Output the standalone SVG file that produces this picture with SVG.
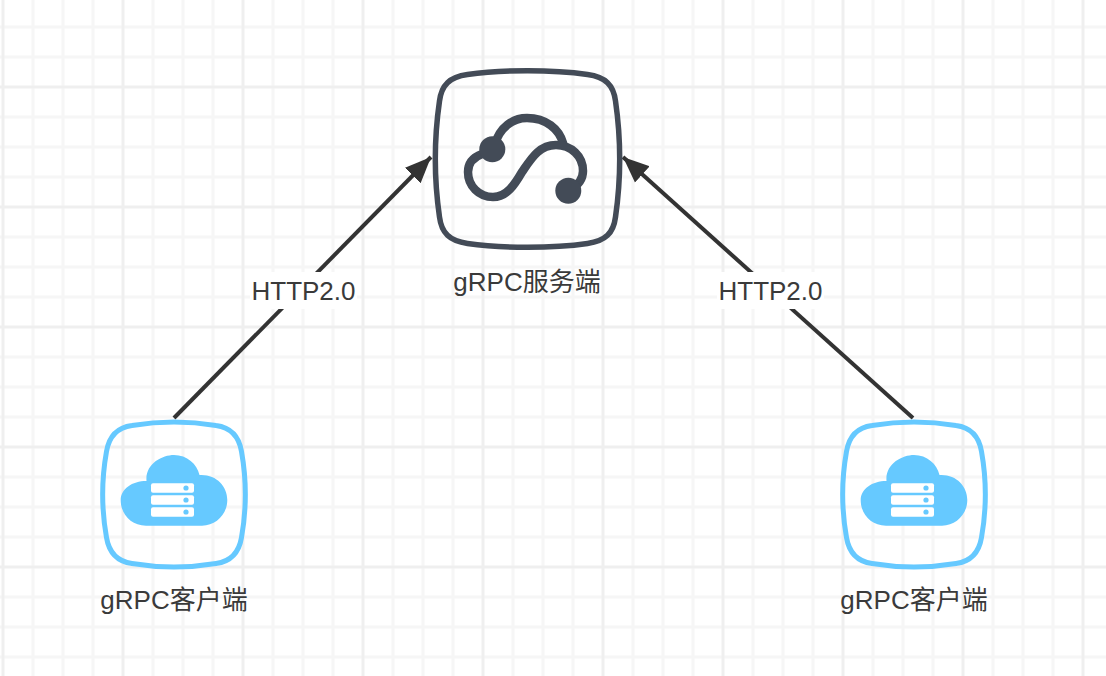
<svg xmlns="http://www.w3.org/2000/svg" width="1106" height="676" viewBox="0 0 1106 676">
<style>
text{font-family:"Liberation Sans","Noto Sans CJK SC",sans-serif;font-size:26px;fill:#3a3a3a;text-anchor:middle}
.minor{stroke:#f6f6f6;stroke-width:3;fill:none}
.major{stroke:#efefef;stroke-width:3;fill:none}
.edge{stroke:#333;stroke-width:4;fill:none;marker-end:url(#arrow)}
.srv{fill:none;stroke:#434b57}
.cli{fill:none;stroke:#66c9ff;stroke-width:5}
</style>
<defs>
<marker id="arrow" markerUnits="userSpaceOnUse" markerWidth="28" markerHeight="24" refX="26" refY="12" orient="auto"><path d="M0,1 L26,12 L0,23 Z" fill="#333"/></marker>
<g id="client-icon">
<path class="cli" d="M-42,-69 C-15,-73.500 15,-73.500 42,-69 C57,-67 65,-58 67.500,-43 C72.500,-15 72.500,15 67.500,43 C65,58 57,67 42,69 C15,73.500 -15,73.500 -42,69 C-57,67 -65,58 -67.500,43 C-72.500,15 -72.500,-15 -67.500,-43 C-65,-58 -57,-67 -42,-69 Z"/>
<path fill="#66c9ff" d="M-28,31.200 C-43,31.200 -53.300,19.500 -53.300,5.500 C-53.300,-5.500 -42,-13.500 -27.500,-13.500 C-29,-30.500 -12,-39.500 0,-39.500 C13,-39.500 23,-30.500 25.500,-19.500 C42,-20.500 53.300,-8.500 53.300,5.500 C53.300,19.500 42,31.200 28,31.200 Z"/>
<g fill="#fff"><rect x="-23" y="-11.200" width="43" height="9.500" rx="2"/><rect x="-23" y="0.800" width="43" height="9.500" rx="2"/><rect x="-23" y="12.800" width="43" height="9.500" rx="2"/></g>
<g fill="#66c9ff"><circle cx="12" cy="-6.500" r="2.600"/><circle cx="12" cy="5.500" r="2.600"/><circle cx="12" cy="17.500" r="2.600"/></g>
</g>
</defs>
<rect width="1106" height="676" fill="#fff"/>
<g id="grid">
<path class="minor" d="M33,0V676M63,0V676M93,0V676M153,0V676M183,0V676M213,0V676M273,0V676M303,0V676M333,0V676M393,0V676M423,0V676M453,0V676M513,0V676M543,0V676M573,0V676M633,0V676M663,0V676M693,0V676M753,0V676M783,0V676M813,0V676M873,0V676M903,0V676M933,0V676M993,0V676M1023,0V676M1053,0V676"/>
<path class="minor" d="M0,27H1106M0,57H1106M0,117H1106M0,147H1106M0,177H1106M0,237H1106M0,267H1106M0,297H1106M0,357H1106M0,387H1106M0,417H1106M0,477H1106M0,507H1106M0,537H1106M0,597H1106M0,627H1106M0,657H1106"/>
<path class="major" d="M3,0V676M123,0V676M243,0V676M363,0V676M483,0V676M603,0V676M723,0V676M843,0V676M963,0V676M1083,0V676"/>
<path class="major" d="M0,87H1106M0,207H1106M0,327H1106M0,447H1106M0,567H1106"/>
</g>
<g id="connectors">
<path class="edge" d="M174,418 L431,157"/>
<path class="edge" d="M913,418 L623,157"/>
</g>
<g id="label-left"><rect x="250" y="272" width="107" height="37" fill="#fff"/><text x="303.500" y="300">HTTP2.0</text></g>
<g id="label-right"><rect x="717" y="272" width="107" height="37" fill="#fff"/><text x="770.500" y="300">HTTP2.0</text></g>
<g id="server">
<path class="srv" stroke-width="5.500" transform="translate(527.500 159)" d="M-60,-84.500 C-25,-89.500 25,-89.500 60,-84.500 C78,-82 86,-74 88,-58 C93.500,-20 93.500,20 88,58 C86,74 78,82 60,84.500 C25,89.500 -25,89.500 -60,84.500 C-78,82 -86,74 -88,58 C-93.500,20 -93.500,-20 -88,-58 C-86,-74 -78,-82 -60,-84.500 Z"/>
<path class="srv" stroke-width="8.500" stroke-linecap="round" d="M495,144 C500,127 513,118 527,118 C546,118 559,129 563,143"/>
<path class="srv" stroke-width="8.500" stroke-linecap="round" d="M570,190 C577,186 583,180 583,171 C583,156 571,145 556,145 C539,145 531,159 522,172 C515,184 507,197 493,197 C479,197 468,186 468,172 C468,163 474,157 482,154"/>
<circle cx="492.300" cy="149.300" r="13" fill="#434b57"/>
<circle cx="568.300" cy="190.700" r="13" fill="#434b57"/>
<text x="527" y="291">gRPC服务端</text>
</g>
<g id="client-left"><use href="#client-icon" x="174" y="494.500"/><text x="174" y="609">gRPC客户端</text></g>
<g id="client-right"><use href="#client-icon" x="914" y="494.500"/><text x="914" y="609">gRPC客户端</text></g>
</svg>
